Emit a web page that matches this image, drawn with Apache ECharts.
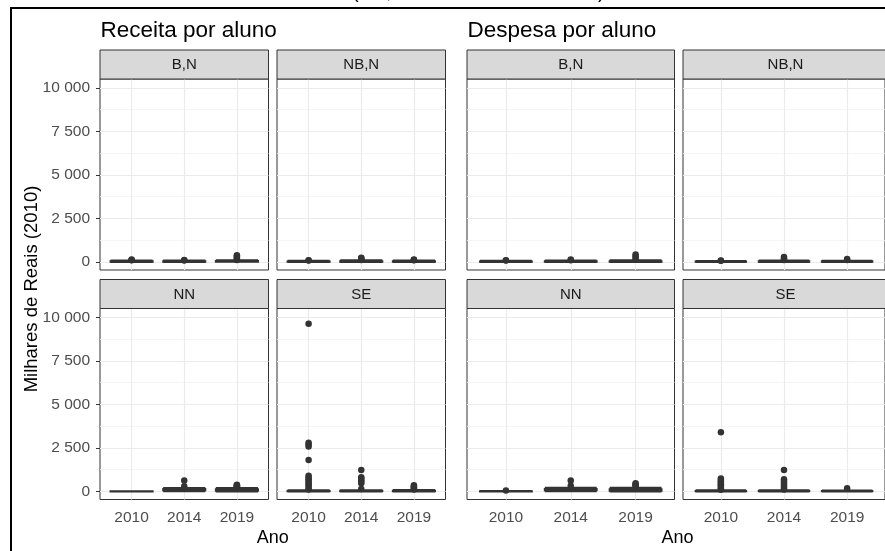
<!DOCTYPE html>
<html>
<head>
<meta charset="utf-8">
<script src="https://cdn.jsdelivr.net/npm/echarts@6/dist/echarts.min.js"></script>
<style>
  html, body { margin: 0; padding: 0; background: #fff; }
  #chart { width: 885px; height: 551px; }
</style>
</head>
<body>
<div id="chart"></div>
<script>
// ---- Dados -------------------------------------------------------------
const anos = ['2010', '2014', '2019'];
const paineis = ['B,N', 'NB,N', 'NN', 'SE'];
const titulos = ['Receita por aluno', 'Despesa por aluno'];
const yTicks = [0, 2500, 5000, 7500, 10000];
const yTickLabels = ['0', '2 500', '5 000', '7 500', '10 000'];
const yMinor = [1250, 3750, 6250, 8750];

// Caixas por ano: [mín, Q1, mediana, Q3, máx]; outliers por ano
const receitaBN_caixas = [[5, 15, 25, 40, 80], [5, 15, 25, 40, 80], [8, 20, 35, 55, 100]];
const receitaBN_outliers = [[100, 120, 140], [90, 110], [120, 170, 230, 290, 340, 380]];
const receitaNBN_caixas = [[3, 12, 20, 32, 65], [5, 18, 30, 48, 95], [4, 15, 25, 40, 80]];
const receitaNBN_outliers = [[85, 105], [120, 160, 210, 250], [95, 115, 140]];
const receitaNN_caixas = [[0, 3, 6, 10, 20], [20, 70, 100, 140, 200], [5, 40, 75, 125, 200]];
const receitaNN_outliers = [[], [300, 630], [270, 300, 330, 360, 390]];
const receitaSE_caixas = [[0, 10, 20, 35, 70], [0, 12, 22, 38, 75], [0, 14, 25, 40, 80]];
const receitaSE_outliers = [
  [110, 150, 300, 400, 500, 600, 700, 800, 900, 1810, 2580, 2700, 2800, 9640],
  [150, 480, 560, 650, 740, 820, 1240],
  [110, 180, 240, 300, 360]
];

const despesaBN_caixas = [[4, 12, 20, 32, 65], [5, 15, 25, 40, 80], [6, 18, 30, 48, 95]];
const despesaBN_outliers = [[80, 95], [100, 140], [150, 250, 350, 430]];
const despesaNBN_caixas = [[3, 10, 18, 30, 60], [5, 16, 28, 45, 90], [4, 14, 24, 38, 75]];
const despesaNBN_outliers = [[70, 85], [120, 200, 280], [110, 170]];
const despesaNN_caixas = [[0, 4, 8, 14, 30], [20, 70, 100, 145, 210], [5, 45, 80, 130, 210]];
const despesaNN_outliers = [[55], [330, 630], [300, 360, 420, 470]];
const despesaSE_caixas = [[0, 10, 20, 35, 70], [0, 12, 22, 38, 75], [0, 10, 18, 30, 60]];
const despesaSE_outliers = [
  [100, 180, 260, 340, 420, 500, 580, 660, 740, 3400],
  [120, 200, 300, 400, 500, 600, 700, 1240],
  [190]
];

const caixas = [
  [receitaBN_caixas, receitaNBN_caixas, receitaNN_caixas, receitaSE_caixas],
  [despesaBN_caixas, despesaNBN_caixas, despesaNN_caixas, despesaSE_caixas]
];
const outliers = [
  [receitaBN_outliers, receitaNBN_outliers, receitaNN_outliers, receitaSE_outliers],
  [despesaBN_outliers, despesaNBN_outliers, despesaNN_outliers, despesaSE_outliers]
];

// ---- Layout ------------------------------------------------------------
const FONT = '"Liberation Sans", Arial, sans-serif';
const colunas = [[100, 268.5], [277, 445.5], [467, 674.5], [683, 888]];
const linhas = [[79, 270], [308.5, 499.5]];
const alturaFaixa = 29;
const Y_MIN = -460, Y_MAX = 10510;
const X_MIN = 0.4, X_MAX = 3.6;

const grids = [], xAxes = [], yAxes = [], series = [], graphics = [];

// moldura externa
graphics.push({
  type: 'rect', z: 100, silent: true,
  shape: { x: 11, y: 8, width: 900, height: 600 },
  style: { fill: 'none', stroke: '#000', lineWidth: 2 }
});
// restos da linha de texto acima da moldura
[['(', 352], [',', 386], [')', 598]].forEach(([t, x]) => {
  graphics.push({
    type: 'text', silent: true,
    style: { text: t, x: x, y: 2, font: '20px ' + FONT, fill: '#000', verticalAlign: 'bottom' }
  });
});

titulos.forEach((t, g) => {
  graphics.push({
    type: 'text', silent: true,
    style: { text: t, x: colunas[g * 2][0] + 0.5, y: 19, font: '22.5px ' + FONT, fill: '#000', verticalAlign: 'top' }
  });
  const cx = (colunas[g * 2][0] + colunas[g * 2 + 1][1]) / 2;
  graphics.push({
    type: 'text', silent: true,
    style: { text: 'Ano', x: cx, y: 529, font: '18px ' + FONT, fill: '#000', align: 'center', verticalAlign: 'top' }
  });
});

graphics.push({
  type: 'text', silent: true, x: 32, y: 289, rotation: Math.PI / 2,
  style: { text: 'Milhares de Reais (2010)', x: 0, y: 0, font: '18.5px ' + FONT, fill: '#000', align: 'center', verticalAlign: 'middle' }
});

const gridLines = [];
yTicks.forEach(v => gridLines.push({ yAxis: v, lineStyle: { color: '#ebebeb', width: 1.2, type: 'solid' } }));
yMinor.forEach(v => gridLines.push({ yAxis: v, lineStyle: { color: '#f2f2f2', width: 0.8, type: 'solid' } }));
[1, 2, 3].forEach(v => gridLines.push({ xAxis: v, lineStyle: { color: '#ebebeb', width: 1.2, type: 'solid' } }));

let idx = 0;
for (let g = 0; g < 2; g++) {
  for (let f = 0; f < 4; f++) {
    const col = g * 2 + (f % 2);
    const row = Math.floor(f / 2);
    const [x0, x1] = colunas[col];
    const [y0, y1] = linhas[row];

    grids.push({
      left: x0, top: y0, width: x1 - x0, height: y1 - y0,
      show: true, backgroundColor: '#fff', borderColor: '#333', borderWidth: 1
    });

    // faixa do painel
    graphics.push({
      type: 'rect', silent: true, z: 50,
      shape: { x: x0, y: y0 - alturaFaixa, width: x1 - x0, height: alturaFaixa },
      style: { fill: '#d9d9d9', stroke: '#333', lineWidth: 1 }
    });
    graphics.push({
      type: 'text', silent: true, z: 51,
      style: { text: paineis[f], x: (x0 + x1) / 2, y: y0 - alturaFaixa / 2 + 0.5, font: '15px ' + FONT, fill: '#1a1a1a', align: 'center', verticalAlign: 'middle' }
    });

    const showX = row === 1;
    xAxes.push({
      gridIndex: idx, type: 'value', min: X_MIN, max: X_MAX,
      axisLine: { show: false }, splitLine: { show: false },
      axisTick: { show: showX, customValues: [1, 2, 3], length: 4, lineStyle: { color: '#333' } },
      axisLabel: {
        show: showX, customValues: [1, 2, 3], margin: 10,
        formatter: v => anos[Math.round(v) - 1],
        color: '#4d4d4d', fontSize: 15.5, fontFamily: FONT
      }
    });
    const showY = col === 0;
    yAxes.push({
      gridIndex: idx, type: 'value', min: Y_MIN, max: Y_MAX,
      axisLine: { show: false }, splitLine: { show: false },
      axisTick: { show: showY, customValues: yTicks, length: 4, lineStyle: { color: '#333' } },
      axisLabel: {
        show: showY, customValues: yTicks, margin: 10,
        formatter: v => yTickLabels[yTicks.indexOf(v)],
        color: '#4d4d4d', fontSize: 15.5, fontFamily: FONT
      }
    });

    const boxData = caixas[g][f].map((c, i) => [i + 1].concat(c));
    series.push({
      type: 'boxplot', xAxisIndex: idx, yAxisIndex: idx, z: 3,
      data: boxData, boxWidth: ['75%', '75%'],
      itemStyle: { color: '#fff', borderColor: '#333', borderWidth: 2 },
      emphasis: { disabled: true }, silent: true
    });

    const ptData = [];
    outliers[g][f].forEach((vals, i) => vals.forEach(v => ptData.push([i + 1, v])));
    series.push({
      type: 'scatter', xAxisIndex: idx, yAxisIndex: idx, z: 4,
      data: ptData, symbol: 'circle', symbolSize: 6.5,
      itemStyle: { color: '#333', opacity: 1 },
      emphasis: { disabled: true }, silent: true,
      markLine: {
        z: 1, silent: true, symbol: ['none', 'none'], label: { show: false },
        animation: false, emphasis: { disabled: true },
        data: gridLines
      }
    });
    idx++;
  }
}

const option = {
  animation: false,
  backgroundColor: '#fff',
  grid: grids,
  xAxis: xAxes,
  yAxis: yAxes,
  series: series,
  graphic: { elements: graphics }
};

const chart = echarts.init(document.getElementById('chart'), null, { renderer: 'canvas' });
chart.setOption(option);
</script>
</body>
</html>
